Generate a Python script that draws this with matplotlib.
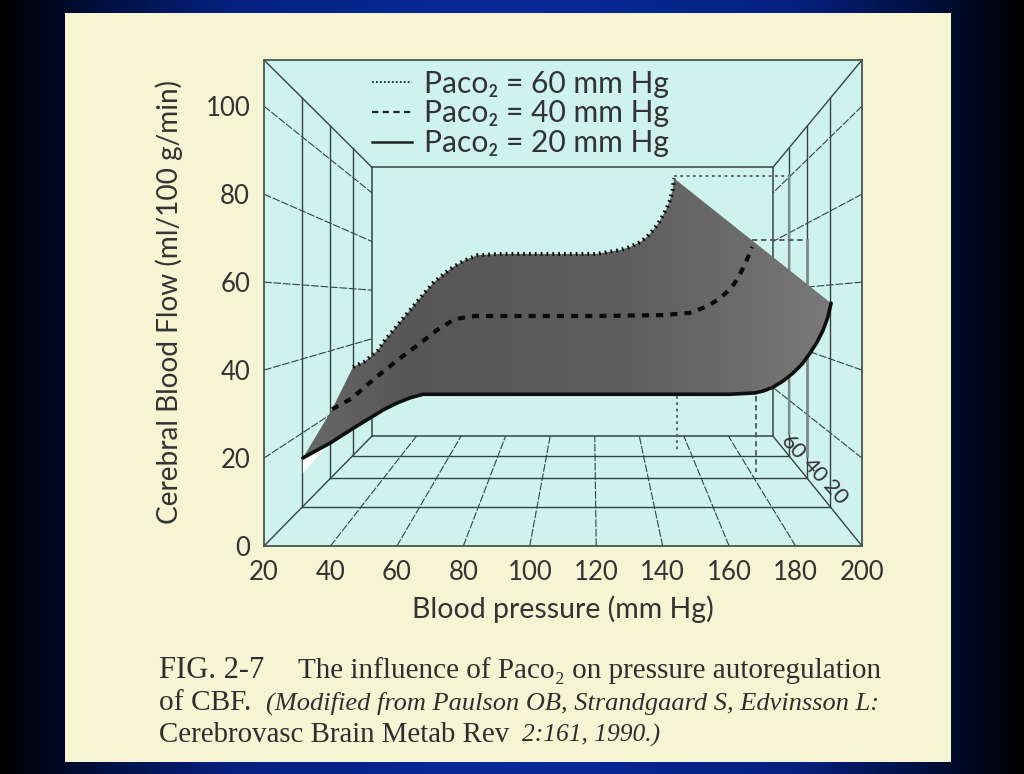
import numpy as np
import matplotlib
matplotlib.use("Agg")
import matplotlib.pyplot as plt
from matplotlib.patches import Polygon

# ---------- data ----------
x_ticks = [20, 40, 60, 80, 100, 120, 140, 160, 180, 200]
y_ticks = [0, 20, 40, 60, 80, 100]
depth_labels = ["60", "40", "20"]

p20_x = [31.7, 35.5, 39.9, 44.0, 48.0, 51.9, 56.0, 60.0, 64.0, 67.9, 75, 100, 130, 160, 167.8, 170.5, 173.2, 176.2, 179.2, 182.0, 184.4, 186.5, 188.3, 189.7, 190.7]
p20_y = [20.0, 21.6, 23.4, 25.4, 27.3, 29.1, 31.0, 32.5, 33.7, 34.5, 34.5, 34.5, 34.5, 34.5, 34.8, 35.3, 36.1, 37.5, 39.3, 41.4, 43.9, 46.4, 49.1, 52.0, 55.2]

p40_x = [40.5, 46.5, 51.3, 56.4, 61.5, 67.0, 72.1, 77.5, 83.5, 91, 121.1, 140, 148.2, 150.3, 153.4, 156.4, 159.0, 161.2, 162.9, 164.2, 165.6, 166.9]
p40_y = [31.1, 33.6, 36.8, 40.0, 43.0, 46.1, 49.1, 51.6, 52.3, 52.3, 52.3, 52.5, 53.0, 53.6, 54.5, 55.9, 57.5, 59.3, 61.2, 63.2, 65.5, 68.0]

p60_x = [46.8, 50.4, 54.3, 56.4, 60.9, 67.0, 70.9, 74.0, 76.9, 80.5, 84.1, 91.0, 109.1, 120, 127.2, 130.2, 133.2, 135.3, 137.1, 138.7, 140.1, 141.3, 142.2, 143.0, 143.4]
p60_y = [40.7, 42.0, 44.5, 46.8, 50.9, 56.4, 59.8, 61.8, 63.4, 65.0, 66.1, 66.4, 66.4, 66.4, 67.3, 68.0, 69.1, 70.3, 71.8, 73.4, 75.2, 76.9, 78.6, 81.0, 83.6]

# white sliver under the low end of the surface
sliver_x = [31.7, 39.9, 31.7]
sliver_y = [20.0, 23.4, 16.6]

# ---------- palette ----------
NAVY = "#0a2a9c"
CREAM = "#f5f5d3"
AQUA = "#cef3ee"
INK = "#37423f"
TXT = "#333333"

plt.rcParams["font.family"] = ["Lato", "DejaVu Sans"]

W, H = 1024, 774
fig = plt.figure(figsize=(W / 100, H / 100), dpi=100)


def axes_px(l, t, r, b, **kw):
    return fig.add_axes([l / W, 1 - b / H, (r - l) / W, (b - t) / H], **kw)


# slide background: black at the sides, blue at the centre
bg = fig.add_axes([0, 0, 1, 1], zorder=0)
ramp = np.abs(np.linspace(-1, 1, 512))[None, :]
cmap = matplotlib.colors.LinearSegmentedColormap.from_list(
    "slide", [(0, NAVY), (0.55, "#062080"), (0.8, "#001040"), (1, "#000000")])
bg.imshow(ramp, aspect="auto", cmap=cmap, vmin=0, vmax=1, extent=[0, 1, 0, 1])
bg.axis("off")

panel = axes_px(65, 13, 951, 762, zorder=1)
panel.set_facecolor(CREAM)
panel.set_xticks([])
panel.set_yticks([])
for s in panel.spines.values():
    s.set_visible(False)

ax = axes_px(264, 60, 862, 546, zorder=2)
ax.set_facecolor(AQUA)

# perspective box: t=0 front frame, t=1 back wall
XL, XR, YB, YT = 20.0, 200.0, 0.0, 110.5
BXL, BXR, BYB, BYT = 52.5, 173.2, 25.0, 86.1
frames = [0.355, 0.615, 0.82]


def px(x, t):
    bx = BXL + (x - XL) * (BXR - BXL) / (XR - XL)
    return x + (bx - x) * t


def py(y, t):
    by = BYB + (y - YB) * (BYT - BYB) / (YT - YB)
    return y + (by - y) * t


lw_solid = 1.0
ax.plot([BXL, BXR, BXR, BXL, BXL], [BYB, BYB, BYT, BYT, BYB], color=INK, lw=1.1, zorder=2)
for x0 in (XL, XR):
    for y0 in (YB, YT):
        ax.plot([x0, px(x0, 1)], [y0, py(y0, 1)], color=INK, lw=lw_solid, zorder=2)
for t in frames:
    for x0 in (XL, XR):
        ax.plot([px(x0, t)] * 2, [py(YB, t), py(YT, t)], color=INK, lw=lw_solid, zorder=2)
    ax.plot([px(XL, t), px(XR, t)], [py(YB, t)] * 2, color=INK, lw=lw_solid, zorder=2)
for v in y_ticks[1:]:
    for x0 in (XL, XR):
        ax.plot([x0, px(x0, 1)], [v, py(v, 1)], color=INK, lw=0.8, ls=(0, (7, 1.5)), zorder=2)
for v in x_ticks[1:-1]:
    ax.plot([v, px(v, 1)], [YB, BYB], color=INK, lw=0.8, ls=(0, (7, 1.5)), zorder=2)

# drop lines from the curve ends to the wall
wall60 = px(XR, frames[2])
wall40 = px(XR, frames[1])
ax.plot([p60_x[-1], wall60], [84.1, 84.1], color="#555555", lw=1.3, ls=(0, (1.5, 2)), zorder=2.5)
ax.plot([wall60, wall60], [84.1, 25.5], color="#7d8a8a", lw=1.6, zorder=2.5)
ax.plot([p40_x[-1], wall40], [69.5, 69.5], color="#555555", lw=1.3, ls=(0, (3, 2)), zorder=2.5)
ax.plot([wall40, wall40], [69.5, 20.5], color="#7d8a8a", lw=2.0, zorder=2.5)
ax.plot([144.3, 144.3], [34, 21.8], color="#555555", lw=1.3, ls=(0, (1.5, 2)), zorder=2.5)
ax.plot([168.1, 168.1], [34, 16.8], color="#555555", lw=1.3, ls=(0, (3, 2)), zorder=2.5)

ax.add_patch(Polygon(np.column_stack([sliver_x, sliver_y]), closed=True,
                     fc="#ffffff", ec="none", zorder=2.6))

# surface between the three curves
outline = np.column_stack([p60_x + p20_x[::-1] + p40_x[:1],
                           p60_y + p20_y[::-1] + p40_y[:1]])
surface = Polygon(outline, closed=True, fc="none", ec="none", zorder=3)
ax.add_patch(surface)
shade = matplotlib.colors.LinearSegmentedColormap.from_list(
    "shade", ["#6a6a6a", "#565656", "#5a5a5a", "#5e5e5e", "#6a6a6a", "#7a7a7a"])
im = ax.imshow(np.linspace(0, 1, 256)[None, :], cmap=shade, aspect="auto",
               extent=[30, 192, 18, 86], zorder=3)
im.set_clip_path(surface)
ax.set_xlim(XL, XR)
ax.set_ylim(YB, YT)

ax.plot(p20_x, p20_y, color="#0f0f0f", lw=2.6, solid_capstyle="round", zorder=4)
ax.plot(p40_x, p40_y, color="#0a0a0a", lw=3.0, ls=(0, (1.7, 1.7)), zorder=4)
ax.plot(p60_x, p60_y, color="#0a0a0a", lw=2.8, ls=(0, (0.45, 1.05)), dash_capstyle="butt", zorder=4)

# depth labels on the floor edge
for lab, (lx, ly) in zip(depth_labels, [(793, 448), (815, 471), (835, 493)]):
    fig.text(lx / W, 1 - ly / H, lab, rotation=-48, ha="center", va="center",
             fontsize=16, color=TXT, zorder=5)

# axes cosmetics
ax.set_xticks(x_ticks)
ax.set_yticks(y_ticks)
ax.tick_params(length=0, labelsize=18.5, colors=TXT)
ax.tick_params(axis="x", pad=10)
ax.tick_params(axis="y", pad=10)
for s in ax.spines.values():
    s.set_color("#4a5550")
    s.set_linewidth(1.3)

fig.text(563 / W, 1 - 609 / H, "Blood pressure (mm Hg)", ha="center", va="center",
         fontsize=20.5, color=TXT)
fig.text(169 / W, 1 - 302 / H, "Cerebral Blood Flow (ml/100 g/min)", rotation=90,
         ha="center", va="center", fontsize=20.2, color=TXT)

# legend
h60, = ax.plot([], [], color="#222222", lw=1.3, ls=(0, (1, 1.2)))
h40, = ax.plot([], [], color="#222222", lw=1.6, ls=(0, (2.8, 2)))
h20, = ax.plot([], [], color="#222222", lw=1.8)
leg = ax.legend([h60, h40, h20],
                ["Paco₂ = 60 mm Hg", "Paco₂ = 40 mm Hg", "Paco₂ = 20 mm Hg"],
                loc="upper left",
                bbox_to_anchor=((372 - 264) / 598, 1 - (69.5 - 60) / 486),
                borderaxespad=0, borderpad=0, frameon=False, fontsize=21.6,
                handlelength=1.33, handletextpad=0.4, labelspacing=0.06,
                labelcolor=TXT)
leg.set_zorder(6)

# caption
SERIF = "Liberation Serif"
cap = dict(family=SERIF, color="#2e2e2e", va="baseline")
fig.text(159 / W, 1 - 678 / H, "FIG. 2-7", fontsize=22, **cap)
fig.text(298 / W, 1 - 678 / H, "The influence of Paco₂ on pressure autoregulation",
         fontsize=21, **{**cap, "family": [SERIF, "DejaVu Sans"]})
fig.text(159 / W, 1 - 710 / H, "of CBF.", fontsize=21.2, **cap)
fig.text(266 / W, 1 - 710 / H, "(Modified from Paulson OB, Strandgaard S, Edvinsson L:",
         style="italic", fontsize=19, **cap)
fig.text(159 / W, 1 - 742 / H, "Cerebrovasc Brain Metab Rev", fontsize=20.8, **cap)
fig.text(522 / W, 1 - 742 / H, "2:161, 1990.)", style="italic", fontsize=18.4, **cap)

fig.savefig("out.png", dpi=100)
